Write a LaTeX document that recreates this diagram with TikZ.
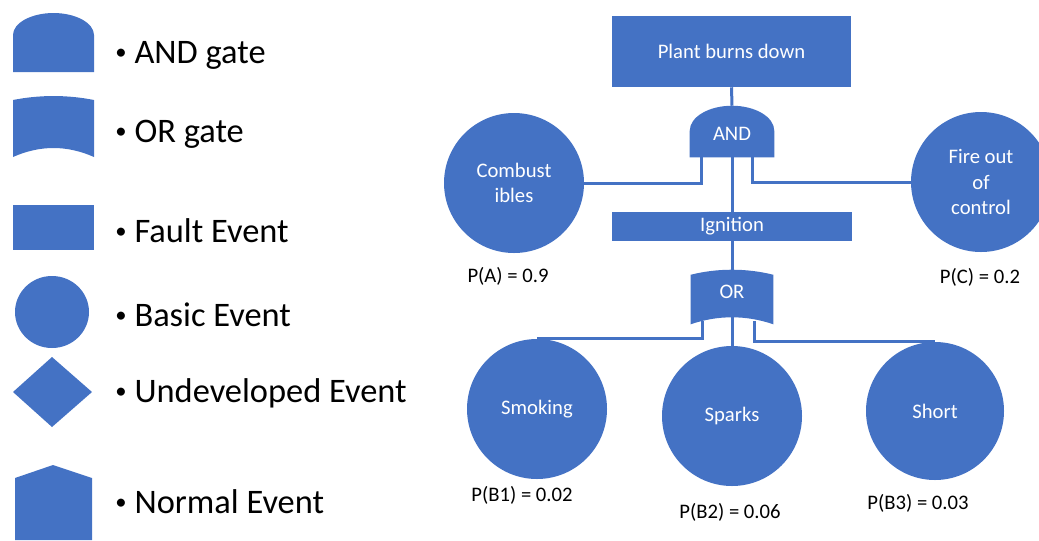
\documentclass[tikz,border=0pt]{standalone}
\usepackage{fontspec}
\setmainfont{Carlito}
\usetikzlibrary{calc}
\definecolor{ftblue}{HTML}{4472C4}
\pgfdeclarelayer{background}
\pgfsetlayers{background,main}
% small list bullet, centred on the capitals
\newcommand\lgbullet{\raisebox{2.4pt}{\fontsize{17}{17}\selectfont\textbullet}\hspace{6pt}}

\begin{document}
\begin{tikzpicture}[x=0.75pt,y=-0.75pt,
  shapefill/.style={fill=ftblue},
  wire/.style={draw=ftblue,line width=2.25pt},
  evtext/.style={text=white,font=\fontsize{15.5}{19}\selectfont,align=center},
  basic/.style={circle,fill=ftblue,minimum size=105pt,inner sep=0pt,evtext},
  fault/.style={rectangle,fill=ftblue,inner sep=0pt,evtext},
  gate/.style={rectangle,inner sep=0pt,evtext},
  prob/.style={font=\fontsize{15.5}{19}\selectfont,inner sep=0pt},
  legend/.style={anchor=base west,font=\fontsize{25.8}{30}\selectfont,inner sep=0pt}
]
\useasboundingbox (0,0) rectangle (1039,540);

% ---------------- legend symbols ----------------
% AND gate
\fill[shapefill] (13,72) -- (13,35) .. controls (13,22.9) and (31.4,13) .. (53.5,13)
  .. controls (75.6,13) and (94,22.9) .. (94,35) -- (94,72) -- cycle;
% OR gate
\fill[shapefill] (13,157) -- (13,100) .. controls (40,94.7) and (67,94.7) .. (94,100)
  -- (94,157) .. controls (67,145) and (40,145) .. (13,157) -- cycle;
% fault event
\fill[shapefill] (13,205) rectangle (94,250);
% basic event
\fill[shapefill] (52,312) ellipse [x radius=37, y radius=36];
% undeveloped event
\fill[shapefill] (52,357) -- (92,392) -- (52,427) -- (13,392) -- cycle;
% normal event
\fill[shapefill] (15,540) -- (15,478) -- (53,465) -- (92,478) -- (92,540) -- cycle;

% legend texts
\node[legend] (lgand)   at (115,63)  {\lgbullet AND gate};
\node[legend] (lgor)    at (115,142) {\lgbullet OR gate};
\node[legend] (lgfault) at (115,242) {\lgbullet Fault Event};
\node[legend] (lgbasic) at (115,326) {\lgbullet Basic Event};
\node[legend] (lgundev) at (115,402) {\lgbullet Undeveloped Event};
\node[legend] (lgnorm)  at (115,513) {\lgbullet Normal Event};

% ---------------- fault tree ----------------
\node[fault, minimum width=179.25pt, minimum height=53.25pt] (top) at (731.5,51.5) {Plant burns down};
\node[gate, minimum width=63pt, minimum height=38.25pt, text height=13pt, text depth=0pt] (andg) at (732,131.5) {AND};
\node[fault, minimum width=180pt, minimum height=21.75pt] (ign) at (732,226.5) {Ignition};
\node[gate, minimum width=61.5pt, minimum height=40.5pt, text depth=7.5pt] (org) at (732,297) {OR};

\node[basic] (comb) at (514,183) {Combust\\ibles};
\node[basic] (fire) at (981,182) {Fire out\\of\\control};
\node[basic] (smoke) at (537,409) {Smoking};
\node[basic] (spark) at (732,416) {Sparks};
\node[basic, minimum size=103.5pt] (short) at (935,411) {Short};

% gate bodies, behind their labels
\begin{pgfonlayer}{background}
  \fill[shapefill] (andg.south west) -- ($(andg.north west)+(0,25)$)
    .. controls +(0,-13.8) and +(-23.2,0) .. (andg.north)
    .. controls +(23.2,0) and +(0,-13.8) .. ($(andg.north east)+(0,25)$)
    -- (andg.south east) -- cycle;
  \fill[shapefill] (org.south west) -- ($(org.north west)+(0,5)$)
    .. controls +(27,-6.7) and +(-27,-6.7) .. ($(org.north east)+(0,5)$)
    -- (org.south east) .. controls +(-27,-9.3) and +(27,-9.3) .. (org.south west) -- cycle;
\end{pgfonlayer}

% probabilities
\node[prob] (pa)  at (508,276) {P(A) = 0.9};
\node[prob] (pc)  at (980,277) {P(C) = 0.2};
\node[prob] (pb1) at (522,495) {P(B1) = 0.02};
\node[prob] (pb2) at (730,512) {P(B2) = 0.06};
\node[prob] (pb3) at (918,503) {P(B3) = 0.03};

% connectors
\draw[wire] (top.south) -- (andg.north);
\draw[wire] ($(andg.south west)+(12,0)$) |- (comb.east);
\draw[wire] ($(andg.south west)+(63,0)$) |- (fire.west);
\draw[wire] (andg.south) -- (ign.north);
\draw[wire] (ign.south) -- (org.north);
\draw[wire] ($(org.south west)+(12,-3)$) |- (smoke.north);
\draw[wire] ($(org.south)+(0,-7)$) -- (spark.north);
\draw[wire] ($(org.south west)+(64,-3)$) |- (short.north);
\end{tikzpicture}
\end{document}
